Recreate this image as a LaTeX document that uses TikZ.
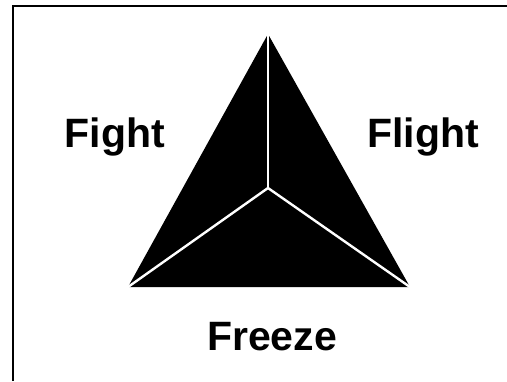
\documentclass[tikz,border=0pt]{standalone}
\usepackage{fontspec}
\setmainfont{Liberation Sans}
\begin{document}
\begin{tikzpicture}[x=1pt,y=-1pt,
    lbl/.style={anchor=base,font=\fontsize{41}{45}\selectfont\bfseries},
    seam/.style={white,line width=2.4pt,line cap=round}]
    \useasboundingbox (0,0) rectangle (507,381);
    \coordinate (ctop) at (268,34);
    \coordinate (cleft) at (128,287);
    \coordinate (cright) at (410,287);
    \coordinate (cmid) at (268,188);
    \draw[line width=2.5pt] (13,381) -- (13,6) -- (507,6);
    \fill (ctop) -- (cright) -- (cleft) -- cycle;
    \draw[seam] (cmid) -- (ctop);
    \draw[seam] (cmid) -- (cleft);
    \draw[seam] (cmid) -- (cright);
    \node[lbl] (fight) at (115,147) {Fight};
    \node[lbl] (flight) at (423,147) {Flight};
    \node[lbl] (freeze) at (272,350) {Freeze};
  \end{tikzpicture}
\end{document}
